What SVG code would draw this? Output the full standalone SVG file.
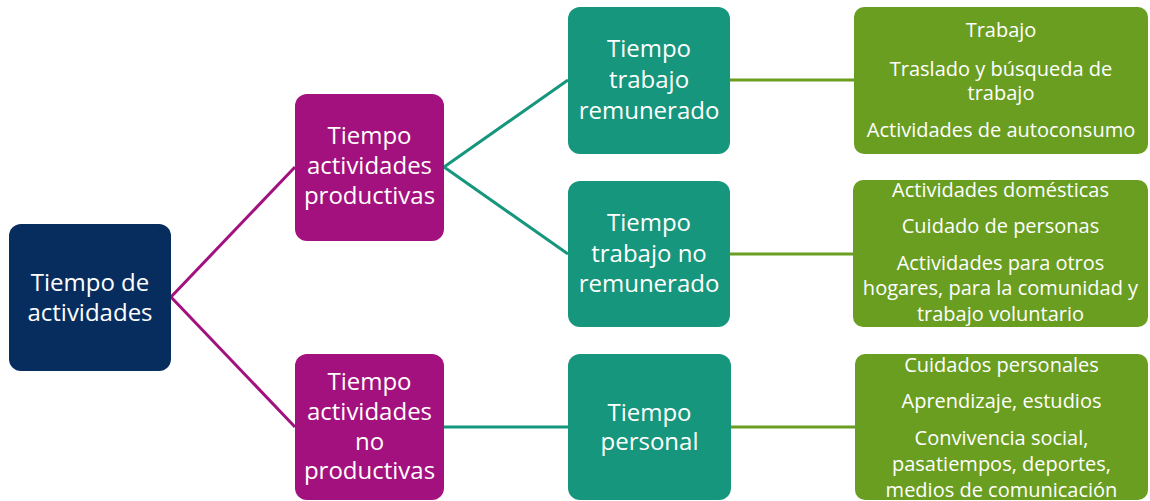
<svg xmlns="http://www.w3.org/2000/svg" width="1150" height="501" viewBox="0 0 1150 501">
<style>
.t{font-family:"Open Sans","Noto Sans","Liberation Sans",sans-serif;fill:#fff;text-anchor:middle}
.big{font-size:24px}
.sm{font-size:20px}
.c1{fill:#072D5F}
.c2{fill:#A3117E}
.c3{fill:#16967C}
.c4{fill:#6A9E21}
.e{fill:none;stroke-width:3}
</style>
<rect width="1150" height="501" fill="#fff"/>
<g id="connectors">
<polyline class="e" stroke="#A3117E" points="295,167 171,297 295,427"/>
<polyline class="e" stroke="#16967C" points="568,80 444,167 568,254"/>
<line class="e" stroke="#16967C" x1="444" y1="427" x2="568" y2="427"/>
<line class="e" stroke="#6A9E21" x1="730" y1="80" x2="854" y2="80"/>
<line class="e" stroke="#6A9E21" x1="730" y1="254" x2="853" y2="254"/>
<line class="e" stroke="#6A9E21" x1="730" y1="427" x2="855" y2="427"/>
</g>
<g id="root">
<rect class="c1" x="9" y="224" width="162" height="147" rx="12"/>
<text class="t big" x="90" y="291">Tiempo de</text>
<text class="t big" x="90" y="321">actividades</text>
</g>
<g id="productivas">
<rect class="c2" x="295" y="94" width="149" height="147" rx="12"/>
<text class="t big" x="369.5" y="144">Tiempo</text>
<text class="t big" x="369.5" y="174">actividades</text>
<text class="t big" x="369.5" y="204">productivas</text>
</g>
<g id="noproductivas">
<rect class="c2" x="295" y="354" width="149" height="146" rx="12"/>
<text class="t big" x="369.5" y="390">Tiempo</text>
<text class="t big" x="369.5" y="420">actividades</text>
<text class="t big" x="369.5" y="450">no</text>
<text class="t big" x="369.5" y="479">productivas</text>
</g>
<g id="remunerado">
<rect class="c3" x="568" y="7" width="162" height="147" rx="12"/>
<text class="t big" x="649" y="57">Tiempo</text>
<text class="t big" x="649" y="88">trabajo</text>
<text class="t big" x="649" y="119">remunerado</text>
</g>
<g id="noremunerado">
<rect class="c3" x="568" y="181" width="162" height="146" rx="12"/>
<text class="t big" x="649" y="231">Tiempo</text>
<text class="t big" x="649" y="262">trabajo no</text>
<text class="t big" x="649" y="292">remunerado</text>
</g>
<g id="personal">
<rect class="c3" x="568" y="354" width="163" height="146" rx="12"/>
<text class="t big" x="649.5" y="421">Tiempo</text>
<text class="t big" x="649.5" y="450">personal</text>
</g>
<g id="leaf1">
<rect class="c4" x="854" y="7" width="294" height="147" rx="10"/>
<text class="t sm" x="1001" y="37">Trabajo</text>
<text class="t sm" x="1001" y="76">Traslado y búsqueda de</text>
<text class="t sm" x="1001" y="100">trabajo</text>
<text class="t sm" x="1001" y="137">Actividades de autoconsumo</text>
</g>
<g id="leaf2">
<rect class="c4" x="853" y="180" width="295" height="147" rx="10"/>
<text class="t sm" x="1000.5" y="197">Actividades domésticas</text>
<text class="t sm" x="1000.5" y="233">Cuidado de personas</text>
<text class="t sm" x="1000.5" y="270">Actividades para otros</text>
<text class="t sm" x="1000.5" y="295">hogares, para la comunidad y</text>
<text class="t sm" x="1000.5" y="321">trabajo voluntario</text>
</g>
<g id="leaf3">
<rect class="c4" x="855" y="354" width="293" height="146" rx="10"/>
<text class="t sm" x="1001.5" y="372">Cuidados personales</text>
<text class="t sm" x="1001.5" y="408">Aprendizaje, estudios</text>
<text class="t sm" x="1001.5" y="445">Convivencia social,</text>
<text class="t sm" x="1001.5" y="471">pasatiempos, deportes,</text>
<text class="t sm" x="1001.5" y="497">medios de comunicación</text>
</g>
</svg>
